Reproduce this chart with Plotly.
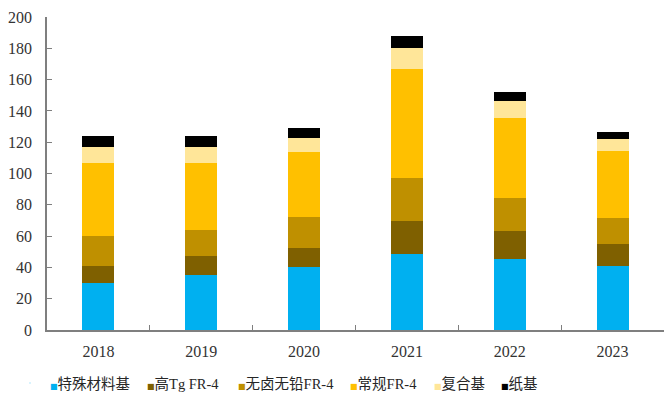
import plotly.graph_objects as go

# Annual output by substrate type, stacked per year
years = ["2018", "2019", "2020", "2021", "2022", "2023"]
special = [30.0, 35.0, 40.5, 48.3, 45.3, 40.8]
high_tg = [11.0, 12.0, 12.0, 21.3, 18.1, 14.1]
halogen_free = [19.0, 17.0, 19.5, 27.7, 21.1, 16.8]
conventional = [47.0, 43.0, 42.0, 69.5, 51.2, 42.5]
composite = [10.0, 10.0, 9.0, 13.6, 10.7, 8.1]
paper = [7.0, 7.0, 6.0, 7.4, 5.7, 4.1]

series_names = ["特殊材料基", "高Tg FR-4", "无卤无铅FR-4", "常规FR-4", "复合基", "纸基"]
series_values = [special, high_tg, halogen_free, conventional, composite, paper]
series_colors = ["#00B0F0", "#7F6000", "#BF9000", "#FFC000", "#FFE699", "#000000"]

# left edge (px) of each legend entry
legend_left_px = [50, 147, 238, 350, 434, 501]

W, H = 664, 397
serif = "Liberation Serif, Noto Sans CJK SC, serif"

fig = go.Figure()
for name, vals, color in zip(series_names, series_values, series_colors):
    fig.add_trace(go.Bar(
        x=years, y=vals, name=name, width=0.31,
        marker=dict(color=color, line=dict(width=0)),
        showlegend=False,
    ))

# one small legend per entry, each with a colored square glyph before its label
for i, (name, color) in enumerate(zip(series_names, series_colors)):
    key = "legend" if i == 0 else f"legend{i + 1}"
    label = (f"<span style='font-family:DejaVu Sans;font-size:8px;fill:{color}'>■</span>"
             f"{name}")
    fig.add_trace(go.Scatter(
        x=[None], y=[None], mode="markers", name=label,
        marker=dict(size=1, opacity=0, color=color),
        legend=key, showlegend=True, hoverinfo="skip",
    ))
    fig.update_layout({key: dict(
        x=(legend_left_px[i] - 40) / W, xref="container", xanchor="left",
        y=1 - 383 / H, yref="container", yanchor="middle",
        bgcolor="rgba(0,0,0,0)", borderwidth=0,
        font=dict(family=serif, size=14.5, color="#262626"),
        orientation="h",
    )})

axis_gray = "#7F7F7F"
fig.update_layout(
    width=W, height=H,
    margin=dict(l=47, r=0, t=17, b=67),
    barmode="stack",
    plot_bgcolor="white", paper_bgcolor="white",
    xaxis=dict(
        type="category", range=[-0.5, 5.5],
        showline=True, linecolor=axis_gray, linewidth=1.5,
        ticks="inside", tickson="boundaries", ticklen=5, tickcolor=axis_gray,
        showgrid=False, zeroline=False,
        tickfont=dict(family=serif, size=16, color="#333333"),
        ticklabelstandoff=6,
    ),
    yaxis=dict(
        range=[0, 200], tickvals=list(range(0, 201, 20)),
        showline=True, linecolor=axis_gray, linewidth=1.5,
        ticks="inside", ticklen=5, tickcolor=axis_gray,
        showgrid=False, zeroline=False,
        tickfont=dict(family=serif, size=16, color="#333333"),
        ticklabelstandoff=10,
    ),
)

fig.write_html("out.html")
